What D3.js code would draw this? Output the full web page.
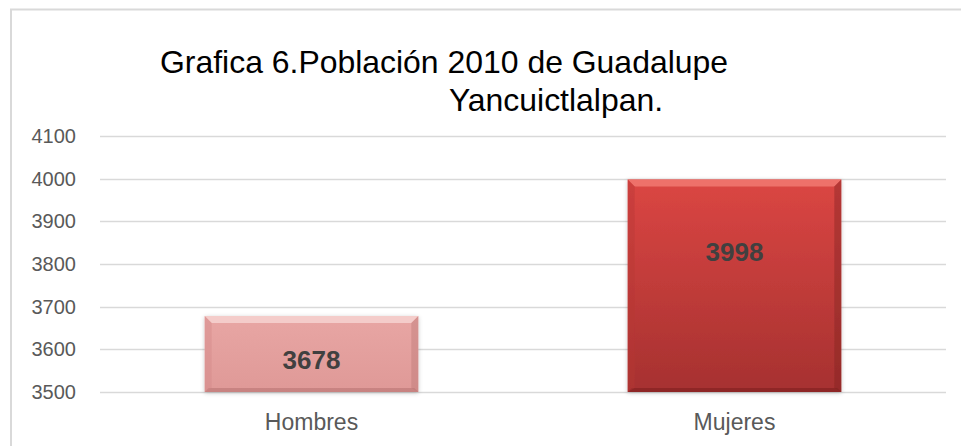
<!DOCTYPE html>
<html>
<head>
<meta charset="utf-8">
<script src="https://cdn.jsdelivr.net/npm/d3@7"></script>
<style>
  body { margin: 0; background: #fff; }
  svg { display: block; }
  .tick text { font-family: "Liberation Sans", Arial, sans-serif; fill: #595959; }
</style>
</head>
<body>
<svg id="chart" width="961" height="446"></svg>
<script>
// data
var categories = ['Hombres', 'Mujeres'];
var values = [3678, 3998];
// where Excel left the data labels (in axis units)
var labelAt = [3575, 3828];
var yTicks = [3500, 3600, 3700, 3800, 3900, 4000, 4100];
var titleLines = ['Grafica 6.Población 2010 de Guadalupe', 'Yancuictlalpan.'];

var svg = d3.select('#chart');
var W = 961, H = 446;
var margin = {top: 136, right: 15, bottom: 54, left: 100};

// chart frame (right and bottom edges fall outside the picture)
svg.append('rect')
    .attr('x', 11).attr('y', 9.5)
    .attr('width', 980).attr('height', 460)
    .attr('fill', 'none')
    .attr('stroke', '#d9d9d9')
    .attr('stroke-width', 2);

var x = d3.scaleBand()
    .domain(categories)
    .range([margin.left, W - margin.right])
    .padding(0);

var y = d3.scaleLinear()
    .domain([3500, 4100])
    .range([H - margin.bottom, margin.top]);

// gridlines
svg.append('g')
    .selectAll('line')
    .data(yTicks)
    .enter()
    .append('line')
        .attr('x1', margin.left)
        .attr('x2', W - margin.right)
        .attr('y1', function(d) { return Math.round(y(d)) + 0.5; })
        .attr('y2', function(d) { return Math.round(y(d)) + 0.5; })
        .attr('stroke', '#d9d9d9')
        .attr('stroke-width', 1.5);

// y axis labels
var yAxis = svg.append('g')
    .attr('transform', 'translate(' + margin.left + ',0)')
    .call(d3.axisLeft(y).tickValues(yTicks).tickSize(0).tickPadding(24).tickFormat(d3.format('d')));
yAxis.select('.domain').remove();
yAxis.selectAll('text').style('font-size', '20px');

// x axis labels
var xAxis = svg.append('g')
    .attr('transform', 'translate(0,' + (H - margin.bottom) + ')')
    .call(d3.axisBottom(x).tickSize(0).tickPadding(22));
xAxis.select('.domain').remove();
xAxis.selectAll('text').style('font-size', '23px');

// gradients and shadow
var defs = svg.append('defs');
var fills = [
    {id: 'g0', top: '#e8a6a4', bottom: '#df9997', light: '#f5d0ce', dark: '#b97573', side: '#d28886'},
    {id: 'g1', top: '#db4643', bottom: '#a63130', light: '#f07570', dark: '#7e2220', side: '#b63835'}
];
fills.forEach(function(f) {
    var g = defs.append('linearGradient')
        .attr('id', f.id)
        .attr('x1', 0).attr('y1', 0).attr('x2', 0).attr('y2', 1);
    g.append('stop').attr('offset', '0%').attr('stop-color', f.top);
    g.append('stop').attr('offset', '100%').attr('stop-color', f.bottom);
});
var shadow = defs.append('filter').attr('id', 'shadow')
    .attr('x', '-10%').attr('y', '-10%').attr('width', '120%').attr('height', '120%');
shadow.append('feDropShadow')
    .attr('dx', 0).attr('dy', 1).attr('stdDeviation', 2)
    .attr('flood-color', '#000').attr('flood-opacity', 0.22);

var barW = x.bandwidth() * 0.505;
var bev = 7;

var bars = svg.append('g')
    .selectAll('g')
    .data(values)
    .enter()
    .append('g')
        .attr('filter', 'url(#shadow)');

bars.each(function(v, i) {
    var sel = d3.select(this);
    var f = fills[i];
    var x0 = x(categories[i]) + (x.bandwidth() - barW) / 2;
    var x1 = x0 + barW;
    var y0 = y(v);
    var y1 = y(3500);

    sel.append('rect')
        .attr('x', x0).attr('y', y0)
        .attr('width', barW).attr('height', y1 - y0)
        .attr('fill', 'url(#' + f.id + ')');

    function poly(pts, color, op) {
        sel.append('polygon')
            .attr('points', pts.map(function(p) { return p.join(','); }).join(' '))
            .attr('fill', color)
            .attr('fill-opacity', op);
    }
    // bevel edges
    poly([[x0, y0], [x1, y0], [x1 - bev, y0 + bev], [x0 + bev, y0 + bev]], f.light, 0.9);
    poly([[x0, y1], [x1, y1], [x1 - 4, y1 - 4], [x0 + 4, y1 - 4]], f.dark, 0.6);
    poly([[x0, y0], [x0 + bev, y0 + bev], [x0 + bev, y1 - 4], [x0, y1]], f.side, 0.4);
    poly([[x1, y0], [x1 - bev, y0 + bev], [x1 - bev, y1 - 4], [x1, y1]], f.dark, 0.4);
});

// data labels
svg.append('g')
    .selectAll('text')
    .data(values)
    .enter()
    .append('text')
        .attr('x', function(d, i) { return x(categories[i]) + x.bandwidth() / 2; })
        .attr('y', function(d, i) { return y(labelAt[i]); })
        .attr('dy', '0.36em')
        .attr('text-anchor', 'middle')
        .style('font-family', '"Liberation Sans", Arial, sans-serif')
        .style('font-weight', 'bold')
        .style('font-size', '26px')
        .style('fill', '#404040')
        .text(function(d) { return d; });

// title, a little condensed like the original
var t1 = svg.append('text')
    .attr('x', 160).attr('y', 73)
    .style('font-family', '"Liberation Sans", Arial, sans-serif')
    .style('font-size', '32px')
    .style('fill', '#000')
    .text(titleLines[0]);
var w1 = t1.node().getComputedTextLength();
var k = 568 / w1;
t1.attr('textLength', 568).attr('lengthAdjust', 'spacingAndGlyphs');

var t2 = svg.append('text')
    .attr('y', 111)
    .style('font-family', '"Liberation Sans", Arial, sans-serif')
    .style('font-size', '32px')
    .style('fill', '#000')
    .text(titleLines[1]);
var w2 = t2.node().getComputedTextLength() * k;
t2.attr('x', 556 - w2 / 2)
    .attr('textLength', w2).attr('lengthAdjust', 'spacingAndGlyphs');
</script>
</body>
</html>
